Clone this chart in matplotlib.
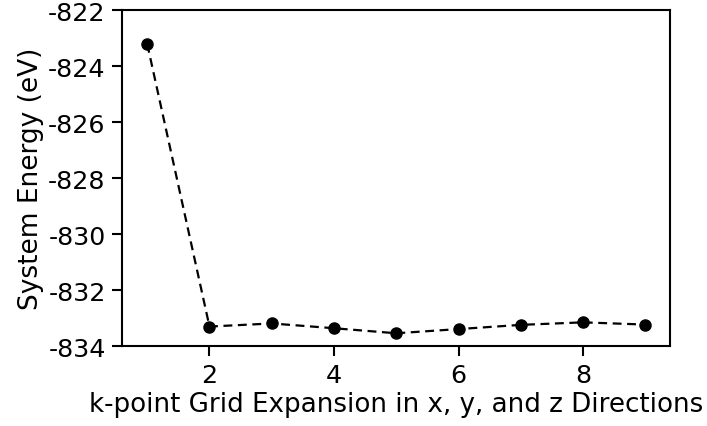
import numpy as np
import matplotlib.pyplot as plt

# k-point grid convergence test
kpoints = [1, 2, 3, 4, 5, 6, 7, 8, 9]
energy = [-823.21, -833.30, -833.19, -833.36, -833.54, -833.39, -833.24, -833.15, -833.23]

plt.rcParams['font.size'] = 18.3
plt.rcParams['axes.unicode_minus'] = False

fig = plt.figure(figsize=(7.07, 4.27), dpi=100)
ax = fig.add_axes([0.173, 0.187, 0.775, 0.787])

ax.plot(kpoints, energy, 'k--o', linewidth=1.6, markersize=8, dashes=(4, 2.5))

ax.set_ylim(-834, -822)
ax.set_yticks(np.arange(-834, -821, 2))
ax.set_xticks([2, 4, 6, 8])
ax.set_xlabel('k-point Grid Expansion in x, y, and z Directions', fontsize=18.8, labelpad=3)
ax.set_ylabel('System Energy (eV)', fontsize=19, labelpad=3)

for s in ax.spines.values():
    s.set_linewidth(1.5)
ax.tick_params(width=1.5, length=7, pad=5)

fig.savefig('out.png', dpi=100)
